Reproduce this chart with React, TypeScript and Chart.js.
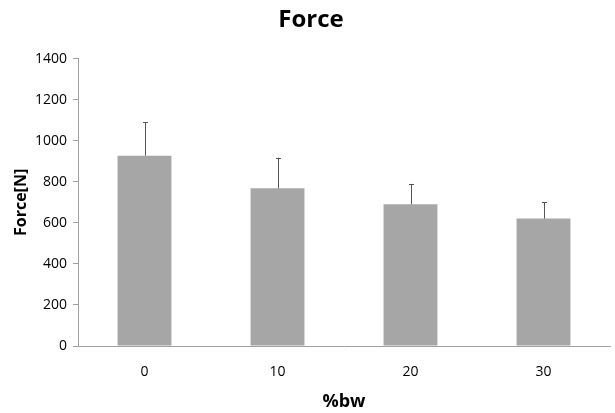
import React, { useEffect, useRef } from "react";
import { Chart, registerables } from "chart.js";

Chart.register(...registerables);

const categories = ["0", "10", "20", "30"];
const forceMeans = [928, 769, 691, 621];
const forceErrors = [163, 149, 99, 80];
const yTicks = [0, 200, 400, 600, 800, 1000, 1200, 1400];

const FONT = "'Open Sans', 'Noto Sans', sans-serif";

const errorBarPlugin = {
  id: "errorBars",
  afterDatasetsDraw(chart: any) {
    const meta = chart.getDatasetMeta(0);
    const yScale = chart.scales.y;
    const ctx = chart.ctx;
    ctx.save();
    ctx.strokeStyle = "#555555";
    ctx.lineWidth = 1;
    meta.data.forEach((bar: any, i: number) => {
      const x = Math.round(bar.x) + 0.5;
      const yTop = yScale.getPixelForValue(forceMeans[i] + forceErrors[i]);
      const yBase = yScale.getPixelForValue(forceMeans[i]);
      ctx.beginPath();
      ctx.moveTo(x, yBase);
      ctx.lineTo(x, yTop);
      ctx.moveTo(x - 2.5, Math.round(yTop) + 0.5);
      ctx.lineTo(x + 2.5, Math.round(yTop) + 0.5);
      ctx.stroke();
    });
    ctx.restore();
  },
};

export default function App() {
  const ref = useRef<HTMLCanvasElement>(null);
  useEffect(() => {
    document.body.style.margin = "0";
    const chart = new Chart(ref.current!, {
      type: "bar",
      data: {
        labels: categories,
        datasets: [
          {
            data: forceMeans,
            backgroundColor: "#a6a6a6",
            borderWidth: 0,
            barPercentage: 0.405,
            categoryPercentage: 1,
          },
        ],
      },
      options: {
        animation: false,
        responsive: false,
        maintainAspectRatio: false,
        layout: { padding: { left: 12, right: 5, top: 0, bottom: 0 } },
        plugins: {
          legend: { display: false },
          tooltip: { enabled: false },
          title: {
            display: true,
            text: "Force",
            color: "#000000",
            font: { family: FONT, size: 24, weight: "bold" },
            padding: { top: 6, bottom: 24 },
          },
        },
        scales: {
          x: {
            grid: { display: false },
            border: { display: true, color: "#a0a0a0", width: 1 },
            afterFit(axis: any) {
              axis.height = 67;
            },
            ticks: {
              color: "#000000",
              font: { family: FONT, size: 14 },
              padding: 10,
            },
            title: {
              display: true,
              text: "%bw",
              color: "#000000",
              font: { family: FONT, size: 18, weight: "bold" },
              padding: { top: 0, bottom: 0 },
            },
          },
          y: {
            min: 0,
            max: 1400,
            afterBuildTicks(axis: any) {
              axis.ticks = yTicks.map((v) => ({ value: v }));
            },
            afterFit(axis: any) {
              axis.width = 66;
            },
            grid: {
              drawOnChartArea: false,
              drawTicks: true,
              tickLength: 5,
              color: "#a0a0a0",
            },
            border: { display: true, color: "#a0a0a0", width: 1 },
            ticks: {
              color: "#000000",
              font: { family: FONT, size: 14 },
              padding: 6,
              callback: (v: any) => String(v),
            },
            title: {
              display: true,
              text: "Force[N]",
              color: "#000000",
              font: { family: FONT, size: 16, weight: "bold" },
              padding: { top: 0, bottom: 0 },
            },
          },
        },
      },
      plugins: [errorBarPlugin],
    });
    return () => chart.destroy();
  }, []);
  return (
    <div style={{ width: 615, height: 413 }}>
      <canvas ref={ref} width={615} height={413} style={{ display: "block" }} />
    </div>
  );
}
